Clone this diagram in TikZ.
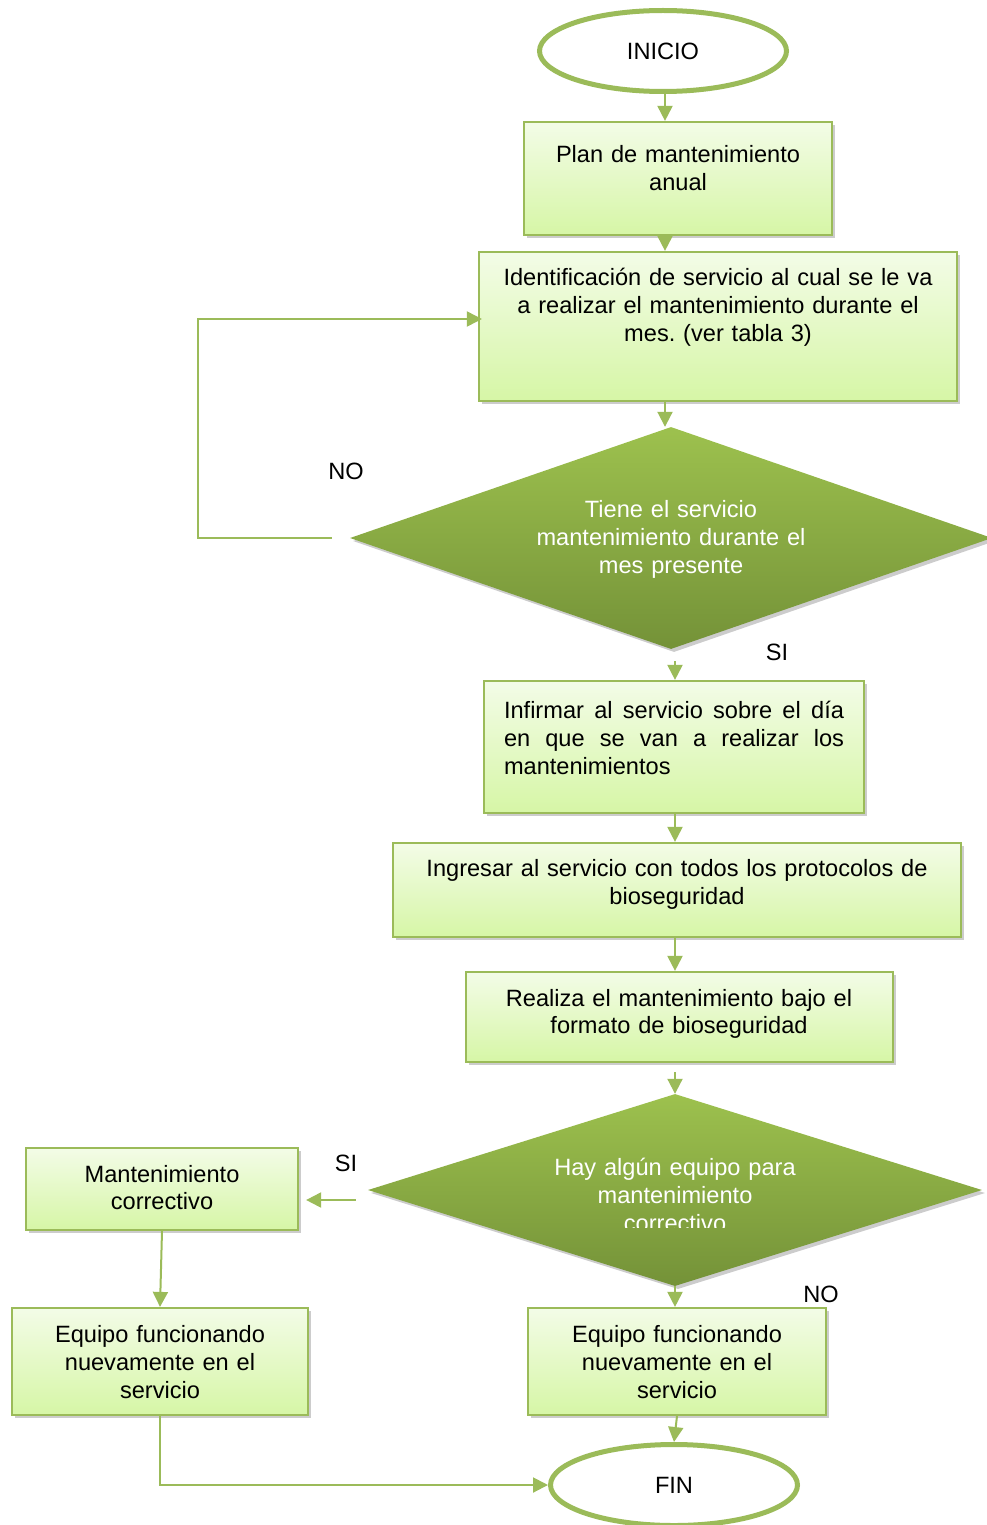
\documentclass[tikz,border=0pt]{standalone}
\usepackage{fontspec}
\setmainfont{Liberation Sans}
\usetikzlibrary{shapes.geometric,arrows.meta,shadows}
\setlength{\parindent}{0pt}
\frenchspacing
\definecolor{leaf}{RGB}{155,187,89}
\definecolor{boxtop}{RGB}{243,252,231}
\definecolor{boxbot}{RGB}{214,246,166}
\definecolor{dtop}{RGB}{157,193,78}
\definecolor{dbot}{RGB}{116,146,56}
\newcommand{\bodyfont}{\fontsize{23.6}{27.6}\selectfont}
% a line stretched to the full width of the paragraph
\newcommand{\fullline}[1]{\makebox[340pt][l]{#1}}

\begin{document}
\begin{tikzpicture}[x=1pt,y=-1pt,
  softshadow/.style={drop shadow={shadow xshift=3pt,shadow yshift=-3pt,fill=black,opacity=.2}},
  box/.style={rectangle, draw=leaf, line width=2.2pt, top color=boxtop, bottom color=boxbot,
    inner sep=0pt, softshadow},
  decision/.style={diamond, draw=none, inner sep=0pt, top color=dtop, bottom color=dbot, softshadow},
  terminal/.style={ellipse, draw=leaf, line width=5pt, fill=white, minimum width=247pt,
    minimum height=81pt, inner sep=0pt, font=\bodyfont},
  txt/.style={text width=#1, align=center, inner sep=0pt, font=\bodyfont,
    execute at begin node=\strut, execute at end node=\strut},
  wtxt/.style={txt=#1, text=white},
  tag/.style={inner sep=0pt, font=\bodyfont},
  conn/.style={draw=leaf, line width=2pt, -{Triangle[width=15pt,length=15pt]}}]

\useasboundingbox (0,0) rectangle (987,1525);

% vertical guide lines for the main column of arrows
\coordinate (axisA) at (665,0);
\coordinate (axisB) at (675,0);
\coordinate (loopx) at (198,0);

% terminals
\node[terminal] (inicio) at (663,51) {INICIO};
\node[terminal] (fin) at (674,1485) {FIN};

% process boxes
\node[box, minimum width=308pt, minimum height=113pt] (b1) at (678,178.5) {};
\node[box, minimum width=478pt, minimum height=149pt] (b2) at (718,326.5) {};
\node[box, minimum width=380pt, minimum height=132pt] (b3) at (674,747) {};
\node[box, minimum width=568pt, minimum height=94pt]  (b4) at (677,890) {};
\node[box, minimum width=427pt, minimum height=90pt]  (b5) at (679.5,1017) {};
\node[box, minimum width=272pt, minimum height=82pt]  (b6) at (162,1189) {};
\node[box, minimum width=296pt, minimum height=107pt] (b7) at (160,1361.5) {};
\node[box, minimum width=298pt, minimum height=107pt] (b8) at (677,1361.5) {};

% decisions
\node[decision, minimum width=642pt, minimum height=222pt] (d1) at (671,538) {};
\node[decision, minimum width=614pt, minimum height=192pt] (d2) at (675,1190) {};

% box texts
\node[txt=300pt] (b1t) at (678,171) {Plan de mantenimiento\\anual};
\node[txt=470pt] (b2t) at (718,308) {Identificación de servicio al cual se le va\\a realizar el mantenimiento durante el\\mes. (ver tabla 3)};
\node[txt=340pt, align=left] (b3t) at (674,741) {%
  \fullline{Infirmar\hfill al\hfill servicio\hfill sobre\hfill el\hfill día}\\
  \fullline{en\hfill que\hfill se\hfill van\hfill a\hfill realizar\hfill los}\\
  mantenimientos};
\node[txt=540pt] (b4t) at (677,885) {Ingresar al servicio con todos los protocolos de\\bioseguridad};
\node[txt=400pt] (b5t) at (679,1014.5) {Realiza el mantenimiento bajo el\\formato de bioseguridad};
\node[txt=260pt] (b6t) at (162,1190.5) {Mantenimiento\\correctivo};
\node[txt=280pt] (b7t) at (160,1365) {Equipo funcionando\\nuevamente en el\\servicio};
\node[txt=280pt] (b8t) at (677,1365) {Equipo funcionando\\nuevamente en el\\servicio};

% decision texts (the lower one is cut off by its text frame)
\node[wtxt=330pt] (d1t) at (671,540) {Tiene el servicio\\mantenimiento durante el\\mes presente};
\begin{scope}
  \clip (360,1090) rectangle (987,1227);
  \node[wtxt=330pt] (d2t) at (675,1198) {Hay algún equipo para\\mantenimiento\\correctivo};
\end{scope}

% branch labels
\node[tag] (no1) at (346,471) {NO};
\node[tag] (si1) at (777,652) {SI};
\node[tag] (si2) at (346,1163) {SI};
\node[tag] (no2) at (821,1294) {NO};

% connectors
\draw[conn] (inicio.south -| axisA) -- (b1.north -| axisA);
\draw[conn] (b1.south -| axisA) -- (b2.north -| axisA);
\draw[conn] (b2.south -| axisA) -- (d1.north -| axisA);
\draw[conn] ([yshift=-12pt]d1.south -| axisB) -- (b3.north -| axisB);
\draw[conn] (b3.south -| axisB) -- (b4.north -| axisB);
\draw[conn] (b4.south -| axisB) -- (b5.north -| axisB);
\draw[conn] ([yshift=-9pt]b5.south -| axisB) -- (d2.north -| axisB);
\draw[conn] (d2.south) -- (b8.north -| d2.south);
\draw[conn] ([xshift=-12pt,yshift=-10pt]d2.west) -- ([xshift=7pt,yshift=-11pt]b6.east);
\draw[conn] (b6.south) -- (b7.north);
\draw[conn] (b8.south) -- (fin.north);
\draw[conn] (b7.south) |- (fin.west);
\draw[conn] ([xshift=-18pt]d1.west) -- (d1.west -| loopx) |- ([xshift=4pt,yshift=7.5pt]b2.west);
\end{tikzpicture}
\end{document}
